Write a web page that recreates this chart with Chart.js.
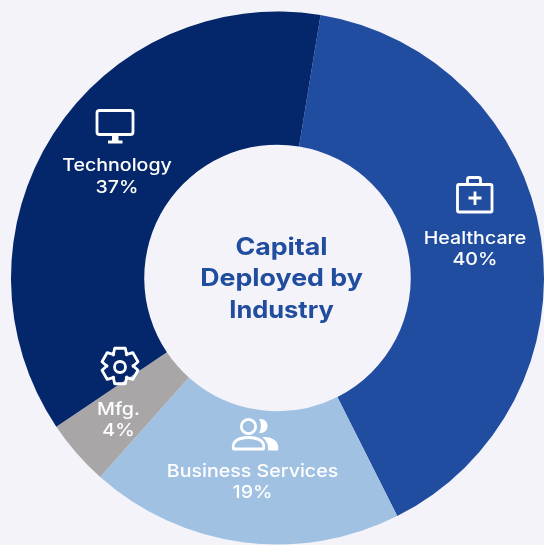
<!DOCTYPE html>
<html>
<head>
<meta charset="utf-8">
<style>
html,body{margin:0;padding:0;background:#f3f3f9;overflow:hidden}
#wrap{position:absolute;left:0;top:0;width:544px;height:545px}
</style>
<script src="https://cdn.jsdelivr.net/npm/chart.js@4"></script>
</head>
<body>
<div id="wrap"><canvas id="c" width="544" height="545"></canvas></div>
<script>
const categories = ["Healthcare", "Business Services", "Mfg.", "Technology"];
const shares = [40, 19, 4, 37];
const sliceColors = ["#214da0", "#a0c1e2", "#a9a6a7", "#04266a"];
const titleLines = ["Capital", "Deployed by", "Industry"];
const titleColor = "#214d9f";
const FONT = '"Inter", "Open Sans", sans-serif';

const icons = {
  "Healthcare": function (x) {
    x.beginPath();
    x.roundRect(457.5, 184.5, 34.5, 27.5, 1.5);
    x.moveTo(467.5, 184); x.lineTo(467.5, 179.5);
    x.quadraticCurveTo(467.5, 177.5, 469.5, 177.5);
    x.lineTo(478.5, 177.5);
    x.quadraticCurveTo(480.5, 177.5, 480.5, 179.5);
    x.lineTo(480.5, 184);
    x.moveTo(475, 191.5); x.lineTo(475, 205);
    x.moveTo(468.5, 198); x.lineTo(481.5, 198);
    x.stroke();
  },
  "Technology": function (x) {
    x.beginPath();
    x.roundRect(97, 110.5, 36, 24, 2.5);
    x.stroke();
    x.fillRect(112, 135, 6.5, 6);
    x.fillRect(108, 140.5, 14.5, 3);
  },
  "Mfg.": function (x) {
    const cx = 120, cy = 366, teeth = 6;
    x.beginPath();
    for (let i = 0; i < teeth; i++) {
      const a = -Math.PI / 2 + i * Math.PI * 2 / teeth;
      const pts = [[-0.55, 13], [-0.29, 18.5], [0.29, 18.5], [0.55, 13]];
      pts.forEach((p, j) => {
        const px = cx + Math.cos(a + p[0]) * p[1];
        const py = cy + Math.sin(a + p[0]) * p[1];
        if (i === 0 && j === 0) x.moveTo(px, py); else x.lineTo(px, py);
      });
    }
    x.closePath();
    x.stroke();
    x.beginPath();
    x.arc(cx, cy + 1, 5.5, 0, Math.PI * 2);
    x.stroke();
  },
  "Business Services": function (x) {
    x.beginPath();
    x.arc(248.5, 426.5, 7.2, 0, Math.PI * 2);
    x.moveTo(233.5, 449);
    x.lineTo(263.5, 449);
    x.bezierCurveTo(265.5, 441, 258, 437.5, 248.5, 437.5);
    x.bezierCurveTo(239, 437.5, 231.5, 441, 233.5, 449);
    x.closePath();
    x.stroke();
    x.beginPath();
    x.moveTo(259, 419);
    x.bezierCurveTo(270.5, 418, 270.5, 434, 259, 433);
    x.bezierCurveTo(261.5, 429, 261.5, 423, 259, 419);
    x.closePath();
    x.fill();
    x.beginPath();
    x.moveTo(262, 437);
    x.bezierCurveTo(273, 436, 280, 442, 278, 450.5);
    x.lineTo(268, 450.5);
    x.bezierCurveTo(269, 445, 266, 440, 262, 437);
    x.closePath();
    x.fill();
  }
};

const labelAnchors = {
  "Healthcare": [475, 239, 259.5],
  "Technology": [117, 165.5, 188],
  "Mfg.": [118.5, 410, 430.5],
  "Business Services": [252.5, 471.5, 493]
};

function wideText(x, text, cx, cy, stretch) {
  x.save();
  x.translate(cx, cy);
  x.scale(stretch, 1);
  x.fillText(text, 0, 0);
  x.restore();
}

const annotations = {
  id: "annotations",
  afterDraw(chart) {
    const x = chart.ctx;
    x.save();
    x.textAlign = "center";
    x.textBaseline = "middle";
    x.fillStyle = "#ffffff";
    x.strokeStyle = "#ffffff";
    x.lineWidth = 2.8;
    x.lineJoin = "round";
    categories.forEach((name, i) => {
      const a = labelAnchors[name];
      icons[name](x);
      x.font = '500 17.5px ' + FONT;
      wideText(x, name, a[0], a[1], 1.12);
      wideText(x, shares[i] + "%", a[0], a[2], 1.12);
    });
    x.fillStyle = titleColor;
    x.font = 'bold 24px ' + FONT;
    const cx = 281.5, ys = [247.5, 279, 311];
    const stretches = [1.115, 1.115, 1.06];
    titleLines.forEach((t, i) => wideText(x, t, cx, ys[i], stretches[i]));
    x.restore();
  }
};

new Chart(document.getElementById("c"), {
  type: "doughnut",
  data: {
    labels: categories,
    datasets: [{ data: shares, backgroundColor: sliceColors, borderWidth: 0, hoverOffset: 0 }]
  },
  options: {
    responsive: false,
    animation: false,
    rotation: 9.3,
    cutout: "50%",
    layout: { padding: { left: 11, top: 11, right: -1, bottom: 0 } },
    plugins: { legend: { display: false }, tooltip: { enabled: false }, title: { display: false } }
  },
  plugins: [annotations]
});
</script>
</body>
</html>
